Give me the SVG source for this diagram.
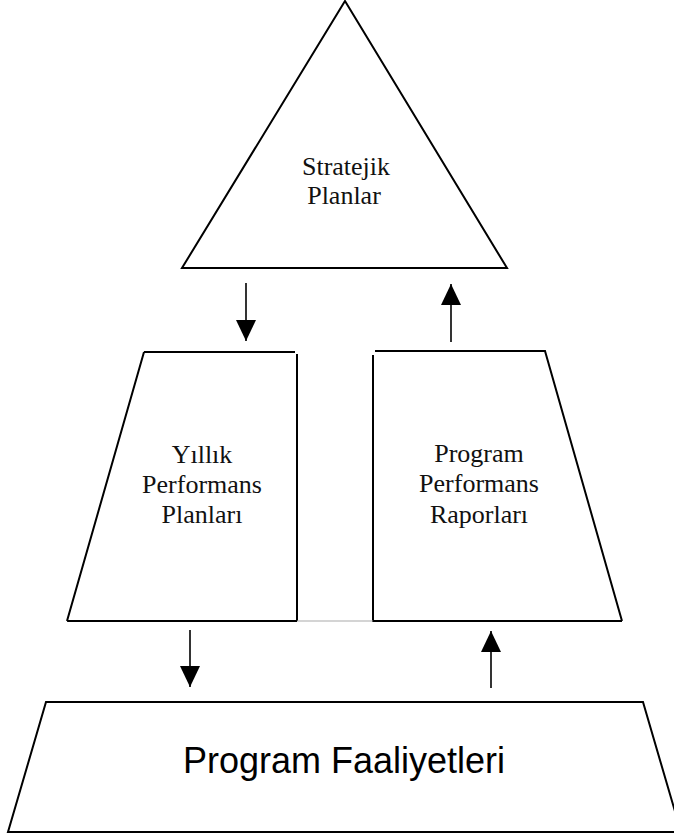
<svg xmlns="http://www.w3.org/2000/svg" width="674" height="835" viewBox="0 0 674 835">
  <style>
    .shape { fill: none; stroke: #000; stroke-width: 2; stroke-linejoin: miter; }
    .serif { font-family: "Liberation Serif", "Times New Roman", serif; font-size: 26px; fill: #111; text-anchor: middle; }
    .sans { font-family: "Liberation Sans", Arial, sans-serif; font-size: 36px; fill: #000; text-anchor: middle; }
    .link { stroke: #000; stroke-width: 1.6; fill: none; }
  </style>
  <defs>
    <marker id="head" markerUnits="userSpaceOnUse" markerWidth="21" markerHeight="20" refX="21" refY="10" orient="auto">
      <path d="M0,0 L21,10 L0,20 z" fill="#000"/>
    </marker>
  </defs>
  <rect width="674" height="835" fill="#fff"/>

  <g id="stratejik-planlar">
    <path class="shape" d="M345,1 L507,268 L182,268 Z"/>
    <text class="serif" x="346" y="175">Stratejik</text>
    <text class="serif" x="344" y="204">Planlar</text>
  </g>

  <g id="yillik-performans-planlari">
    <path class="shape" d="M144,352 L295,352 M297,354 L297,621 M144,352 L67,621 M67,621 L297,621"/>
    <text class="serif" x="202" y="463">Yıllık</text>
    <text class="serif" x="202" y="493">Performans</text>
    <text class="serif" x="202" y="523">Planları</text>
  </g>

  <g id="program-performans-raporlari">
    <path class="shape" d="M375,351 L545,351 L622,621 M373,355 L373,621 L622,621"/>
    <text class="serif" x="479" y="462">Program</text>
    <text class="serif" x="479" y="492">Performans</text>
    <text class="serif" x="479" y="523">Raporları</text>
  </g>

  <g id="program-faaliyetleri">
    <path class="shape" d="M46,702 L643,702 L681,832 L8,832 Z"/>
    <text class="sans" x="344" y="773">Program Faaliyetleri</text>
  </g>

  <g id="connectors">
    <line x1="297" y1="621" x2="373" y2="621" stroke="#aaa" stroke-width="1.2"/>
    <line class="link" x1="246" y1="283" x2="246" y2="341" marker-end="url(#head)"/>
    <line class="link" x1="451" y1="342" x2="451" y2="284" marker-end="url(#head)"/>
    <line class="link" x1="190" y1="630" x2="190" y2="687" marker-end="url(#head)"/>
    <line class="link" x1="491" y1="688" x2="491" y2="631" marker-end="url(#head)"/>
  </g>
</svg>
